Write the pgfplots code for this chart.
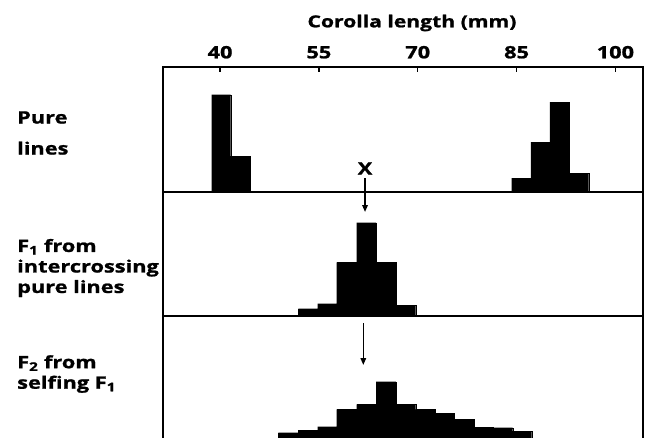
\documentclass[border=0pt]{standalone}
\usepackage{pgfplots}
\pgfplotsset{compat=1.18}
\usepackage{fontspec}
\setmainfont{Open Sans}[FakeStretch=1.28, BoldFeatures={FakeBold=1.2}]
\usetikzlibrary{arrows.meta}
\begin{document}
\begin{tikzpicture}
\pgfplotsset{
  panel/.style={
    scale only axis, width=480bp,
    xmin=31.34, xmax=104.19, ymin=0,
    ytick=\empty, axis line style={line width=1.8bp},
    anchor=north west, clip=false,
  },
  bars/.style={ybar interval, fill=black, draw=black, line width=0.2bp},
}
% Panel 1: pure lines
\begin{axis}[panel, at={(163bp,-67bp)}, height=125bp, ymax=125,
  xtick={40,55,70,85,100}, xtick pos=upper, xticklabel pos=upper,
  tick align=inside, major tick length=5bp,
  tick style={line width=1.3bp, black},
  /pgf/number format/assume math mode=true,
  xticklabel style={font=\bfseries\fontsize{17bp}{19bp}\selectfont, yshift=5bp}]
\addplot[bars] coordinates {(38.73,97.4) (41.61,36) (44.54,36)};
\addplot[bars] coordinates {(84.26,14) (87.19,50) (90.07,90) (93.00,18.7) (95.95,18.7)};
\node[font=\bfseries\fontsize{17bp}{19bp}\selectfont] at (axis cs:62.0,23.5) {X};
\end{axis}
% Panel 2: F1
\begin{axis}[panel, at={(163bp,-192bp)}, height=124bp, ymax=124, xtick=\empty]
\addplot[bars] coordinates {(51.87,7.4) (54.82,12.4) (57.70,53.7) (60.74,93.4) (63.67,53.7) (66.70,10.7) (69.69,10.7)};
\draw[line width=1.6bp, -{Triangle[length=7bp,width=5.5bp]}] (axis cs:62.0,138) -- (axis cs:62.0,104);
\end{axis}
% Panel 3: F2
\begin{axis}[panel, at={(163bp,-315bp)}, height=123bp, ymax=123, xtick=\empty,
  hide x axis]
\addplot[bars] coordinates {(48.84,5.3) (51.87,8) (54.82,11.3) (57.70,28.7) (60.74,33.7) (63.67,56.3) (66.70,33.7) (69.69,28.7) (72.62,24.7) (75.50,18.7) (78.54,11) (81.47,10.3) (84.41,7) (87.30,7)};
\draw[line width=1.6bp, -{Triangle[length=7bp,width=5.5bp]}] (axis cs:61.74,115) -- (axis cs:61.74,73);
\end{axis}
% Title
\node[font=\bfseries\fontsize{16.5bp}{20bp}\selectfont] at (412bp,-23bp) {Corolla length (mm)};
% Row labels
\begin{scope}[every node/.style={align=left, inner sep=0pt,
  font=\bfseries\fontsize{17bp}{20.5bp}\selectfont}]
\node[anchor=base west] at (17bp,-123.5bp) {Pure};
\node[anchor=base west] at (17bp,-154.5bp) {lines};
\node[anchor=west] at (17bp,-268bp) {F\textsubscript{1} from\\intercrossing\\pure lines};
\node[anchor=west] at (17bp,-374bp) {F\textsubscript{2} from\\selfing F\textsubscript{1}};
\end{scope}
\pgfresetboundingbox
\useasboundingbox (0,0) rectangle (653bp,-438bp);
\end{tikzpicture}
\end{document}
